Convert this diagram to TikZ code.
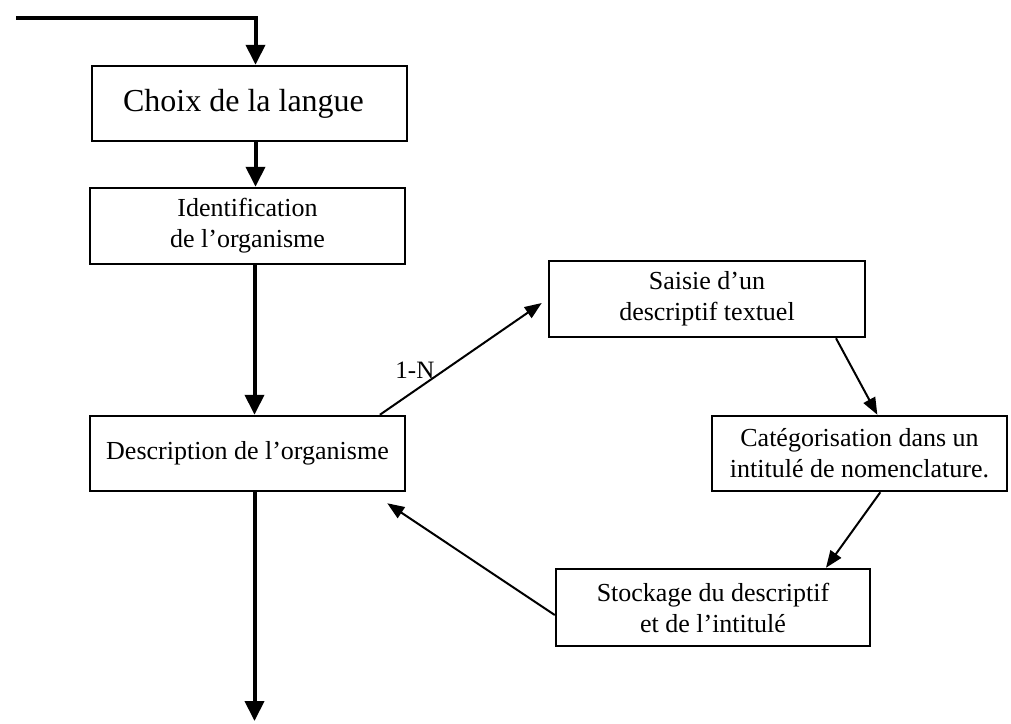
\documentclass[tikz,border=0pt]{standalone}
\usepackage{fontspec}
\setmainfont{Liberation Serif}
\usetikzlibrary{calc,arrows.meta}

\tikzset{
    box/.style={draw, line width=2.5pt, align=center, inner sep=2pt,
        font=\fontsize{26}{31}\selectfont},
    mainflow/.style={line width=4pt, -{Triangle[length=20pt,width=19pt]}},
    loopflow/.style={line width=2pt, -{Triangle[length=17pt,width=13pt]}}
}

\begin{document}
\begin{tikzpicture}[x=1pt,y=-1pt]
    \useasboundingbox (0,0) rectangle (1011,723);

    % Main column
    \node[box, minimum width=315pt, minimum height=75pt,
        font=\fontsize{32}{38}\selectfont] (choix) at (249.5,103.5) {Choix de la langue\hspace{12pt}};
    \node[box, minimum width=315pt, minimum height=76pt] (ident) at (247.5,226) {Identification\\de l'organisme};
    \node[box, minimum width=315pt, minimum height=75pt] (desc) at (247.5,453.5) {Description de l'organisme};

    % Loop on the right
    \node[box, minimum width=316pt, minimum height=76pt] (saisie) at (707,299) {Saisie d'un\\descriptif textuel};
    \node[box, minimum width=295pt, minimum height=75pt] (categ) at (859.5,453.5) {Catégorisation dans un\\intitulé de nomenclature.};
    \node[box, minimum width=314pt, minimum height=77pt] (stock) at (713,607.5) {Stockage du descriptif\\et de l'intitulé};

    % Entry and exit points
    \coordinate (entry) at (16,17.5);
    \coordinate (exit) at (254.5,721);

    % Main flow arrows
    \draw[mainflow] (entry) -| ([xshift=6pt]choix.north);
    \draw[mainflow] ([xshift=6pt]choix.south) -- ([xshift=8pt]ident.north);
    \draw[mainflow] ([xshift=7pt]ident.south) -- ([xshift=7pt]desc.north);
    \draw[mainflow] ([xshift=7pt]desc.south) -- (exit);

    % Loop arrows
    \draw[loopflow] ($(desc.north west)!0.917!(desc.north east)$) -- ([xshift=-6pt,yshift=-4pt]saisie.west)
        node[pos=0.33, above left=-2pt, inner sep=0pt, font=\fontsize{25}{30}\selectfont] {1-N};
    \draw[loopflow] ($(saisie.south west)!0.905!(saisie.south east)$) -- ($(categ.north west)!0.56!(categ.north east)$);
    \draw[loopflow] ($(categ.south west)!0.57!(categ.south east)$) -- ($(stock.north west)!0.857!(stock.north east)$);
    \draw[loopflow] ([yshift=-7.5pt]stock.west) -- ([xshift=-19pt,yshift=-11pt]desc.south east);

\end{tikzpicture}
\end{document}
